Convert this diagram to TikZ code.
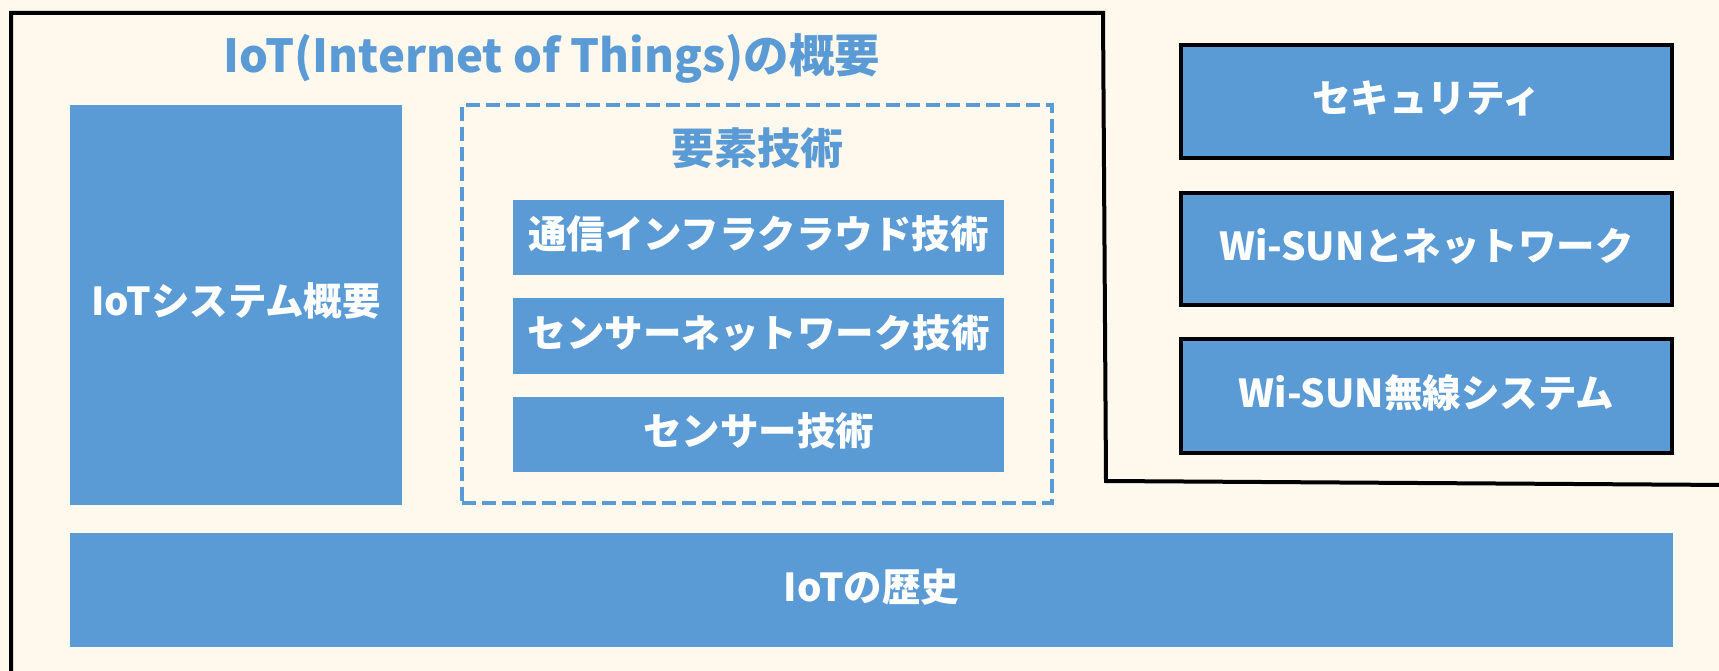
\documentclass[tikz,border=0pt]{standalone}
\usepackage{fontspec}
\setmainfont{Noto Sans CJK JP}
\definecolor{bluefill}{HTML}{5B9BD5}
\definecolor{cream}{HTML}{FFF8EC}
\begin{document}
\begin{tikzpicture}[x=1pt,y=-1pt,
  box/.style={fill=bluefill, draw=none, inner sep=0pt, outer sep=0pt, text=white,
    font=\bfseries\fontsize{38.5}{46}\selectfont, anchor=center},
  boxlabel/.style={text=white, inner sep=0pt, anchor=base,
    font=\bfseries\fontsize{38.5}{46}\selectfont},
  framedbox/.style={box, draw=black, line width=4pt},
  ttl/.style={text=bluefill, inner sep=0pt, anchor=base},
  dashbox/.style={draw=bluefill, line width=4pt, dash pattern=on 14pt off 6pt, inner sep=0pt}]
\fill[cream] (0,0) rectangle (1719,671);
\useasboundingbox (0,0) rectangle (1719,671);
% outline
\draw[line width=4pt, line join=miter] (11,690) -- (11,13) -- (1103,13) -- (1106,481) -- (1730,485);
% title
\node[ttl, font=\bfseries\fontsize{45.5}{54}\selectfont] (title) at (552,73) {IoT(Internet of Things)の概要};
% left box
\node[box, minimum width=332pt, minimum height=400pt] (sys) at (236,305) {};
% dashed group
\node[dashbox, minimum width=590pt, minimum height=398pt] (elem) at (757,304) {};
\node[ttl, font=\bfseries\fontsize{43}{50}\selectfont] (elemtitle) at (757,165) {要素技術};
\node[box, minimum width=491pt, minimum height=75pt] (comm) at (758.5,237.5) {};
\node[box, minimum width=491pt, minimum height=76pt] (snet) at (758.5,336) {};
\node[box, minimum width=491pt, minimum height=75pt] (sens) at (758.5,434.5) {};
% right boxes
\node[framedbox, minimum width=491pt, minimum height=113pt] (sec) at (1426.5,101.5) {};
\node[framedbox, minimum width=491pt, minimum height=112pt] (wnet) at (1426.5,249) {};
\node[framedbox, minimum width=491pt, minimum height=114pt] (wsys) at (1426.5,396) {};
% history
\node[box, minimum width=1603pt, minimum height=114pt] (hist) at (871.5,590) {};
% labels (baseline placed)
\node[boxlabel] (sysl) at ([yshift=-10pt]sys.center) {IoTシステム概要};
\node[boxlabel] (comml) at ([yshift=-11pt]comm.center) {通信インフラクラウド技術};
\node[boxlabel] (snetl) at ([yshift=-11pt]snet.center) {センサーネットワーク技術};
\node[boxlabel] (sensl) at ([yshift=-11pt]sens.center) {センサー技術};
\node[boxlabel] (secl) at ([yshift=-11pt]sec.center) {セキュリティ};
\node[boxlabel] (wnetl) at ([yshift=-11pt]wnet.center) {Wi-SUNとネットワーク};
\node[boxlabel] (wsysl) at ([yshift=-11pt]wsys.center) {Wi-SUN無線システム};
\node[boxlabel] (histl) at ([yshift=-11pt]hist.center) {IoTの歴史};
\end{tikzpicture}
\end{document}
